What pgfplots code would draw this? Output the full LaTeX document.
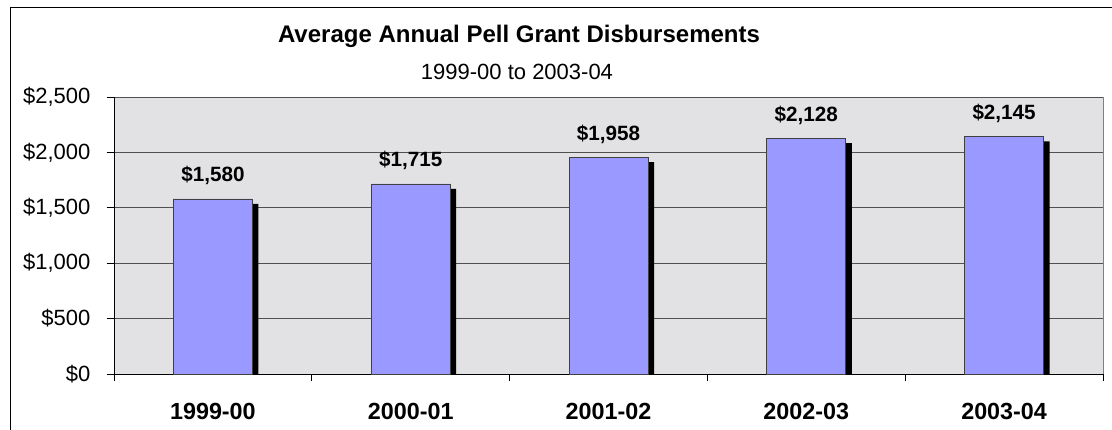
\documentclass[border=0pt]{standalone}
\usepackage{pgfplots}
\pgfplotsset{compat=1.18}
\usepackage{fontspec}
\setmainfont{Liberation Sans}

\definecolor{barfill}{RGB}{153,153,255}
\definecolor{marble}{RGB}{226,226,228}
\definecolor{gridgray}{RGB}{80,80,80}

% average Pell Grant disbursement per year
\pgfplotstableread{
x v
0 1580
1 1715
2 1958
3 2128
4 2145
}\pell

\begin{document}
\begin{tikzpicture}
\useasboundingbox (0,0) rectangle (834pt,321.75pt);
% chart frame
\draw[black, line width=0.75pt] (7.5pt,-10pt) rectangle (845pt,315.75pt);

\node[anchor=base, font=\fontsize{18}{20}\selectfont\bfseries] at (389.25pt,289.5pt)
  {Average Annual Pell Grant Disbursements};
\node[anchor=base, font=\fontsize{16.5}{18}\selectfont] at (387.75pt,261.75pt)
  {1999-00 to 2003-04};

\begin{axis}[
  at={(85.5pt,41.25pt)}, anchor=south west,
  scale only axis,
  width=741.75pt, height=207.75pt,
  xmin=-0.5, xmax=4.5,
  ymin=0, ymax=2500,
  axis x line*=bottom, axis y line*=left,
  axis line style={black, line width=0.75pt},
  axis background/.style={fill=marble, draw=gray, line width=0.75pt},
  clip=true,
  tick align=outside,
  major tick length=5.5pt,
  tick style={black, line width=0.75pt},
  ytick={0,500,...,2500},
  ymajorgrids,
  grid style={gridgray, line width=0.75pt},
  xtick={-0.5,0.5,1.5,2.5,3.5,4.5},
  xticklabels={},
  extra x ticks={0,1,2,3,4},
  extra x tick labels={1999-00,2000-01,2001-02,2002-03,2003-04},
  extra x tick style={major tick length=0pt, grid=none,
    tick label style={font=\fontsize{17.5}{19}\selectfont\bfseries, inner sep=0pt, anchor=north, yshift=-21.5pt}},
  /pgf/number format/assume math mode=true,
  /pgf/number format/.cd, fixed, precision=0, 1000 sep={,},
  /pgfplots/.cd,
  yticklabel={\$\pgfmathprintnumber{\tick}},
  yticklabel style={font=\fontsize{16.5}{18}\selectfont, inner sep=0pt, anchor=east, xshift=-12pt},
  ybar,
  bar width=59.25pt,
]
% drop shadow behind each bar
\addplot[ybar, bar shift=0pt, fill=black, draw=none, xshift=4.5pt, yshift=-3.75pt, forget plot]
  table[x=x, y=v] {\pell};
% bars with value labels
\addplot[ybar, bar shift=0pt, fill=barfill, draw=black!75, line width=0.6pt,
  nodes near coords={\$\pgfmathprintnumber{\pgfplotspointmeta}},
  every node near coord/.append style={font=\fontsize{15.5}{17}\selectfont\bfseries,
    text=black, anchor=base, inner sep=0pt, yshift=12.75pt}]
  table[x=x, y=v] {\pell};
\end{axis}
\end{tikzpicture}
\end{document}
